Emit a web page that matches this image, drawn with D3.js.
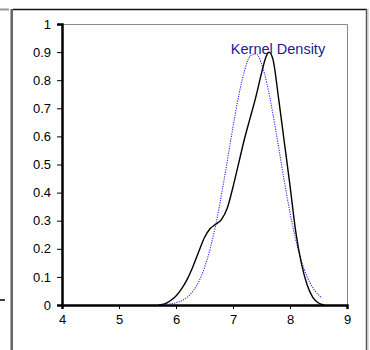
<!DOCTYPE html>
<html>
<head>
<meta charset="utf-8">
<script src="https://cdn.jsdelivr.net/npm/d3@7"></script>
<style>
  html, body { margin: 0; padding: 0; background: #fff; }
  svg { display: block; font-family: Arial, "Liberation Sans", sans-serif; }
</style>
</head>
<body>
<svg id="chart" width="370" height="350"></svg>
<script>
// Kernel density estimate (solid) and fitted normal curve (dotted)
const kernelX = [5.70, 5.80, 5.90, 6.00, 6.10, 6.20, 6.30, 6.40, 6.50, 6.60, 6.70, 6.80, 6.90,
                 7.00, 7.10, 7.20, 7.30, 7.40, 7.50, 7.55, 7.60, 7.63, 7.70, 7.80, 7.90,
                 8.00, 8.10, 8.20, 8.30, 8.40, 8.50, 8.60];
const kernelY = [0.000, 0.004, 0.015, 0.032, 0.058, 0.093, 0.138, 0.190, 0.240, 0.272, 0.288, 0.305, 0.345,
                 0.420, 0.505, 0.590, 0.665, 0.740, 0.825, 0.865, 0.893, 0.900, 0.875, 0.735, 0.580,
                 0.425, 0.262, 0.148, 0.072, 0.027, 0.007, 0.000];

const normalX = [5.80, 5.90, 6.00, 6.10, 6.20, 6.30, 6.40, 6.50, 6.60, 6.70, 6.80, 6.90, 7.00,
                 7.10, 7.20, 7.30, 7.40, 7.50, 7.60, 7.70, 7.80, 7.90, 8.00, 8.10, 8.20,
                 8.30, 8.40, 8.50, 8.56];
const normalY = [0.002, 0.004, 0.008, 0.015, 0.028, 0.050, 0.083, 0.133, 0.201, 0.288, 0.395, 0.513, 0.634,
                 0.745, 0.833, 0.885, 0.894, 0.859, 0.784, 0.680, 0.562, 0.441, 0.329, 0.233, 0.157,
                 0.101, 0.062, 0.036, 0.025];

const xTicks = [4, 5, 6, 7, 8, 9];
const yTicks = [0, 0.1, 0.2, 0.3, 0.4, 0.5, 0.6, 0.7, 0.8, 0.9, 1];
const chartTitle = "Kernel Density";

const svg = d3.select("#chart");

// Outer frame of the chart object and fragments of the neighbouring frame
svg.append("line").attr("x1", 0).attr("x2", 9).attr("y1", 9.5).attr("y2", 9.5)
   .attr("stroke", "#999").attr("stroke-width", 2);
svg.append("line").attr("x1", 0).attr("x2", 5).attr("y1", 300).attr("y2", 300)
   .attr("stroke", "#000").attr("stroke-width", 1.5);
svg.append("line").attr("x1", 10.5).attr("x2", 10.5).attr("y1", 9).attr("y2", 350)
   .attr("stroke", "#aaa").attr("stroke-width", 1);
svg.append("line").attr("x1", 12).attr("x2", 12).attr("y1", 9).attr("y2", 350)
   .attr("stroke", "#666").attr("stroke-width", 2);
svg.append("line").attr("x1", 13).attr("x2", 367).attr("y1", 9.5).attr("y2", 9.5)
   .attr("stroke", "#111").attr("stroke-width", 1.5);
svg.append("line").attr("x1", 366.5).attr("x2", 366.5).attr("y1", 9).attr("y2", 350)
   .attr("stroke", "#555").attr("stroke-width", 1.5);
svg.append("line").attr("x1", 368).attr("x2", 368).attr("y1", 9).attr("y2", 350)
   .attr("stroke", "#bbb").attr("stroke-width", 1);

const x = d3.scaleLinear().domain([4, 9]).range([62, 347]);
const y = d3.scaleLinear().domain([0, 1]).range([305, 24]);

// Plot area border (top and right)
svg.append("path")
   .attr("d", `M${x(4)},${y(1) + 0.5}H${x(9) + 0.5}V${y(0)}`)
   .attr("fill", "none").attr("stroke", "#888").attr("stroke-width", 1);

// Y axis
const yAxis = svg.append("g").attr("transform", `translate(${x(4)},0)`)
  .call(d3.axisLeft(y).tickValues(yTicks).tickSize(5).tickPadding(6)
        .tickFormat(d => d === 0 || d === 1 ? d3.format("d")(d) : d3.format(".1f")(d)));
yAxis.select(".domain").attr("stroke", "#000").attr("stroke-width", 2.5);
yAxis.selectAll(".tick line").attr("stroke", "#000").attr("stroke-width", 1);
yAxis.selectAll(".tick text").attr("font-size", 13).attr("fill", "#000")
     .attr("font-family", "Arial, 'Liberation Sans', sans-serif");

// X axis
const xAxis = svg.append("g").attr("transform", `translate(0,${y(0)})`)
  .call(d3.axisBottom(x).tickValues(xTicks).tickSize(4).tickPadding(6).tickFormat(d3.format("d")));
xAxis.select(".domain").attr("stroke", "#000").attr("stroke-width", 2.5);
xAxis.selectAll(".tick line").attr("stroke", "#000").attr("stroke-width", 1);
xAxis.selectAll(".tick text").attr("font-size", 13).attr("fill", "#000")
     .attr("font-family", "Arial, 'Liberation Sans', sans-serif");

const line = d3.line().x(d => x(d[0])).y(d => y(d[1])).curve(d3.curveMonotoneX);

// Normal curve: thin blue dotted line
svg.append("path")
   .datum(d3.zip(normalX, normalY))
   .attr("d", line)
   .attr("fill", "none").attr("stroke", "#2a2aff").attr("stroke-width", 1.1)
   .attr("stroke-dasharray", "1.2,1.2");

// Kernel density: solid black line
svg.append("path")
   .datum(d3.zip(kernelX, kernelY))
   .attr("d", line)
   .attr("fill", "none").attr("stroke", "#000").attr("stroke-width", 1.4);

// Title
svg.append("text")
   .attr("x", 278).attr("y", 54)
   .attr("text-anchor", "middle")
   .attr("font-size", 14.5)
   .attr("fill", "#1c1c8c")
   .text(chartTitle);
</script>
</body>
</html>
